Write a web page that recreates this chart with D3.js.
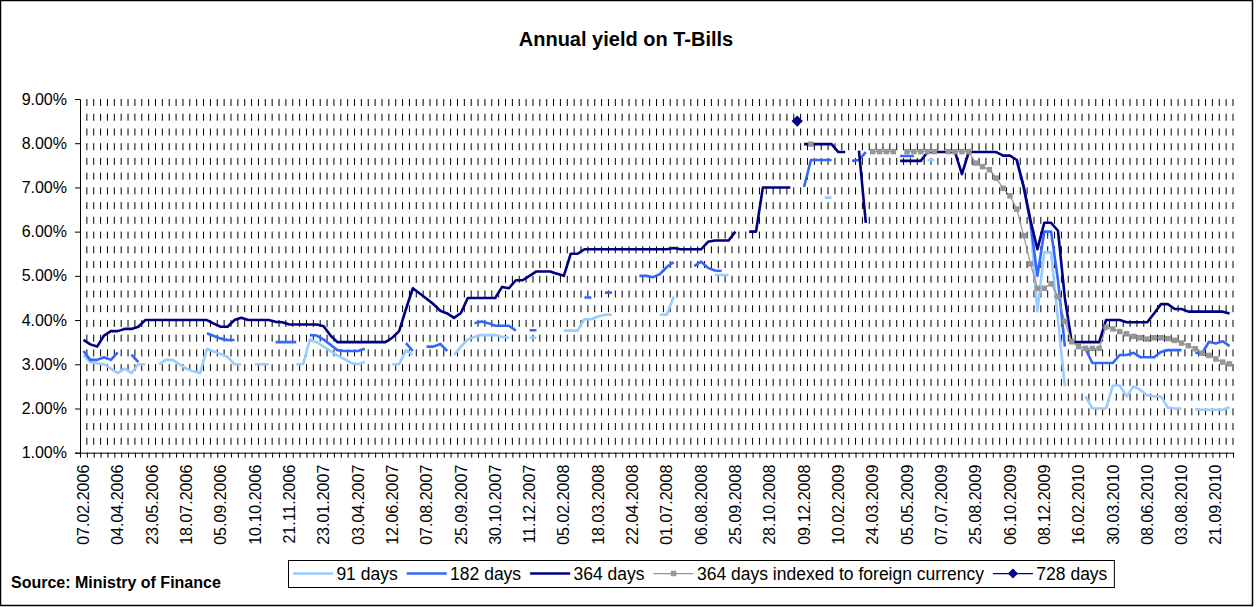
<!DOCTYPE html>
<html>
<head>
<meta charset="utf-8">
<script src="https://cdn.jsdelivr.net/npm/d3@7"></script>
<style>
body { margin: 0; background: #fff; }
svg { display: block; font-family: "Liberation Sans", Arial, sans-serif; }
</style>
</head>
<body>
<svg id="chart" width="1257" height="607"></svg>
<script>
// auction count and the labels Excel printed (every 5th auction)
var nAuctions = 168;
var tickLabels = ["07.02.2006","04.04.2006","23.05.2006","18.07.2006","05.09.2006","10.10.2006",
    "21.11.2006","23.01.2007","03.04.2007","12.06.2007","07.08.2007","25.09.2007","30.10.2007",
    "11.12.2007","05.02.2008","18.03.2008","22.04.2008","01.07.2008","06.08.2008","25.09.2008",
    "28.10.2008","09.12.2008","10.02.2009","24.03.2009","05.05.2009","07.07.2009","25.08.2009",
    "06.10.2009","08.12.2009","16.02.2010","30.03.2010","08.06.2010","03.08.2010","21.09.2010"];
var yTicks = [1, 2, 3, 4, 5, 6, 7, 8, 9];

// yields in %, null = no auction for that paper
var d91 = [3.2,3.05,3.02,3.0,2.9,2.8,2.9,2.8,3.0,3.0,
    null,3.0,3.1,3.1,3.0,2.9,2.84,2.8,3.35,3.29,
    3.23,3.17,3.0,3.0,null,3.0,3.0,3.0,null,null,
    null,3.0,3.0,3.56,3.5,3.4,3.3,3.2,3.12,3.03,
    3.0,3.05,null,null,null,3.0,3.0,3.32,3.22,null,
    null,null,null,null,3.21,3.4,3.56,3.62,3.66,3.66,
    3.66,3.62,3.6,null,null,3.6,3.6,null,null,null,
    3.76,3.76,3.76,4.02,4.02,4.08,4.12,4.12,null,null,
    null,null,null,null,4.12,4.12,4.53,null,null,null,
    null,null,5.02,5.02,5.02,null,null,null,null,null,
    null,null,null,null,null,null,null,null,6.77,6.77,
    null,null,null,null,null,null,null,null,null,null,
    null,null,null,7.62,7.62,null,null,null,null,null,
    null,null,null,null,null,null,null,null,6.2,4.2,
    5.53,5.53,4.0,2.5,null,null,2.28,2.0,2.0,2.0,
    2.52,2.52,2.27,2.5,2.42,2.3,2.27,2.27,2.02,2.0,
    2.0,null,1.98,1.97,1.97,1.97,1.97,2.03];

var d182 = [3.3,3.1,3.1,3.16,3.1,3.27,null,3.22,3.05,null,
    null,null,null,null,null,null,null,null,3.7,3.64,
    3.58,3.55,3.55,null,null,null,null,null,3.5,3.5,
    3.5,3.5,null,3.66,3.65,3.56,3.44,3.32,3.3,3.3,
    3.3,3.35,null,null,null,null,null,3.48,3.3,null,
    3.4,3.4,3.46,3.3,null,null,null,3.93,3.97,3.93,
    3.87,3.87,3.87,3.76,null,3.77,3.77,null,null,null,
    null,null,null,4.51,4.51,null,4.62,4.62,null,null,
    null,5.0,5.0,4.97,5.04,5.2,5.31,null,null,5.22,
    5.32,5.18,5.12,5.11,null,null,null,null,null,null,
    null,null,null,null,null,7.01,7.62,7.62,7.62,7.62,
    null,null,7.6,7.62,7.8,null,null,null,null,7.71,
    7.71,7.71,null,null,null,null,null,null,null,null,
    null,null,null,null,null,null,7.6,7.0,6.2,5.0,
    6.0,6.0,4.9,3.4,null,null,3.35,3.03,3.03,3.03,
    3.03,3.21,3.21,3.26,3.16,3.16,3.16,3.28,3.32,3.32,
    3.32,null,3.26,3.25,3.51,3.47,3.52,3.41];

var d364 = [3.55,3.45,3.4,3.65,3.75,3.75,3.8,3.8,3.85,4.0,
    4.0,4.0,4.0,4.0,4.0,4.0,4.0,4.0,4.0,3.92,
    3.85,3.85,4.0,4.05,4.0,4.0,4.0,4.0,3.96,3.95,
    3.9,3.9,3.9,3.9,3.9,3.86,3.65,3.5,3.5,3.5,
    3.5,3.5,3.5,3.5,3.5,3.6,3.75,4.25,4.72,4.6,
    4.48,4.36,4.21,4.15,4.05,4.16,4.5,4.5,4.5,4.5,
    4.5,4.75,4.72,4.9,4.9,5.0,5.1,5.1,5.1,5.05,
    5.0,5.5,5.5,5.6,5.6,5.6,5.6,5.6,5.6,5.6,
    5.6,5.6,5.6,5.6,5.6,5.6,5.63,5.6,5.6,5.6,
    5.6,5.77,5.8,5.8,5.8,6.0,null,6.0,6.0,7.0,
    7.0,7.0,7.0,7.0,null,7.98,7.98,7.98,7.98,7.98,
    7.8,7.8,null,7.83,6.2,null,null,null,null,7.6,
    7.6,7.6,7.6,7.8,7.8,7.8,7.8,7.8,7.3,7.8,
    7.8,7.8,7.8,7.8,7.72,7.72,7.62,7.02,6.25,5.6,
    6.2,6.2,6.02,4.5,3.5,3.5,3.5,3.5,3.5,4.0,
    4.0,4.0,3.95,3.95,3.95,3.95,4.15,4.36,4.36,4.25,
    4.25,4.19,4.19,4.19,4.19,4.19,4.19,4.15];

// 364 days indexed to foreign currency: first issue in Dec 2008
var dIndexed = new Array(106).fill(null).concat([7.98,
    null,null,null,null,null,null,null,null,7.81,7.81,7.81,7.81,null,
    7.81,7.81,7.81,7.81,7.81,null,7.81,7.81,7.81,7.81,
    7.55,7.47,7.4,7.21,6.98,6.81,6.51,5.91,5.27,4.72,
    4.72,4.82,4.53,3.97,3.51,3.4,3.36,3.36,3.36,3.84,
    3.8,3.74,3.69,3.63,3.6,3.57,3.6,3.6,3.58,3.54,
    3.48,3.42,3.35,3.25,3.2,3.12,3.05,3.01]);

// one 728 day auction
var d728 = new Array(104).fill(null).concat([8.5], new Array(63).fill(null));

var seriesNames = ["91 days", "182 days", "364 days", "364 days indexed to foreign currency", "728 days"];
var seriesColors = ["#99ccff", "#3366ff", "#000080", "#969696", "#000080"];
var seriesData = [d91, d182, d364, dIndexed, d728];

var plotLeft = 80, plotRight = 1233, plotTop = 99, plotBottom = 452.7;
var svg = d3.select("#chart");

// outer chart frame
svg.append("rect")
    .attr("x", 0.5).attr("y", 0.5)
    .attr("width", 1252).attr("height", 605)
    .attr("fill", "#fff").attr("stroke", "#000").attr("stroke-width", 1.5);

svg.append("text")
    .attr("x", 626).attr("y", 46)
    .attr("text-anchor", "middle")
    .attr("font-size", "20px").attr("font-weight", "bold")
    .text("Annual yield on T-Bills");

var x = d3.scaleBand().domain(d3.range(nAuctions)).range([plotLeft, plotRight]);
var xEdge = d3.scaleLinear().domain([0, nAuctions]).range([plotLeft, plotRight]);
var y = d3.scaleLinear().domain([1, 9]).range([plotBottom, plotTop]);
var cx = function(i) { return x(i) + x.bandwidth() / 2; };

// dashed vertical gridlines between auctions
svg.append("g")
    .selectAll("line")
    .data(d3.range(1, nAuctions + 1))
    .enter().append("line")
    .attr("x1", function(d) { return xEdge(d); })
    .attr("x2", function(d) { return xEdge(d); })
    .attr("y1", y(9)).attr("y2", y(1))
    .attr("stroke", "#000").attr("stroke-width", 1)
    .attr("stroke-dasharray", "7,7.73");

// y axis
var yAxis = svg.append("g")
    .attr("transform", "translate(" + plotLeft + ",0)")
    .call(d3.axisLeft(y).tickValues(yTicks).tickSize(5).tickPadding(8)
        .tickFormat(function(d) { return d.toFixed(2) + "%"; }));
yAxis.selectAll("text").attr("font-size", "16px").attr("fill", "#000").attr("font-family", null);
yAxis.selectAll("line, path").attr("stroke", "#000");

// x axis: tick marks at every auction boundary
var xTicks = svg.append("g")
    .attr("transform", "translate(0," + plotBottom + ")")
    .call(d3.axisBottom(xEdge).tickValues(d3.range(nAuctions + 1)).tickSize(5).tickSizeOuter(0).tickFormat(""));
xTicks.selectAll("line, path").attr("stroke", "#000");

// x labels, rotated
var xLabels = svg.append("g")
    .attr("transform", "translate(0," + plotBottom + ")")
    .call(d3.axisBottom(x).tickValues(d3.range(0, nAuctions, 5)).tickSize(0)
        .tickFormat(function(d) { return tickLabels[d / 5]; }));
xLabels.select(".domain").remove();
xLabels.selectAll("text")
    .attr("font-size", "16px").attr("fill", "#000").attr("font-family", null)
    .attr("transform", "rotate(-90)")
    .attr("x", -12).attr("y", 0).attr("dy", "0.35em")
    .style("text-anchor", "end");

// series
var line = d3.line()
    .defined(function(d) { return d != null; })
    .x(function(d, i) { return cx(i); })
    .y(function(d) { return y(d); });

var lineWidths = [2.6, 2.6, 2.6, 1.25, 1.25];
seriesData.forEach(function(data, s) {
    svg.append("path")
        .datum(data)
        .attr("d", line)
        .attr("fill", "none")
        .attr("stroke", seriesColors[s])
        .attr("stroke-width", lineWidths[s])
        .attr("stroke-linejoin", "round");
});

var squareSym = d3.symbol().type(d3.symbolSquare);

svg.append("g").selectAll("path")
    .data(dIndexed.map(function(v, i) { return {i: i, v: v}; }).filter(function(d) { return d.v != null; }))
    .enter().append("path")
    .attr("d", squareSym.size(30)())
    .attr("transform", function(d) { return "translate(" + cx(d.i) + "," + y(d.v) + ")"; })
    .attr("fill", seriesColors[3]);

svg.append("g").selectAll("path")
    .data(d728.map(function(v, i) { return {i: i, v: v}; }).filter(function(d) { return d.v != null; }))
    .enter().append("path")
    .attr("d", d3.symbol().type(d3.symbolSquare).size(64)())
    .attr("transform", function(d) { return "translate(" + cx(d.i) + "," + y(d.v) + ") rotate(45)"; })
    .attr("fill", seriesColors[4]);

// legend
var legend = svg.append("g");
var legendBox = legend.append("rect")
    .attr("x", 288.5).attr("y", 560.5).attr("height", 27)
    .attr("fill", "#fff").attr("stroke", "#000").attr("stroke-width", 1);

var lx = 293, ly = 573.5;
seriesNames.forEach(function(name, s) {
    legend.append("line")
        .attr("x1", lx).attr("x2", lx + 40)
        .attr("y1", ly).attr("y2", ly)
        .attr("stroke", seriesColors[s])
        .attr("stroke-width", s < 3 ? 2.6 : 1.25);
    if (s == 3) {
        legend.append("path")
            .attr("d", squareSym.size(30)())
            .attr("transform", "translate(" + (lx + 20) + "," + ly + ")")
            .attr("fill", seriesColors[3]);
    }
    if (s == 4) {
        legend.append("path")
            .attr("d", d3.symbol().type(d3.symbolSquare).size(50)())
            .attr("transform", "translate(" + (lx + 20) + "," + ly + ") rotate(45)")
            .attr("fill", seriesColors[4]);
    }
    var t = legend.append("text")
        .attr("x", lx + 43.4).attr("y", ly).attr("dy", "0.35em")
        .attr("font-size", "17.5px")
        .text(name);
    lx = lx + 43.4 + t.node().getComputedTextLength() + 9;
});
legendBox.attr("width", lx - 2 - 288.5);

svg.append("text")
    .attr("x", 11).attr("y", 588)
    .attr("font-size", "16px").attr("font-weight", "bold")
    .text("Source: Ministry of Finance");
</script>
</body>
</html>
